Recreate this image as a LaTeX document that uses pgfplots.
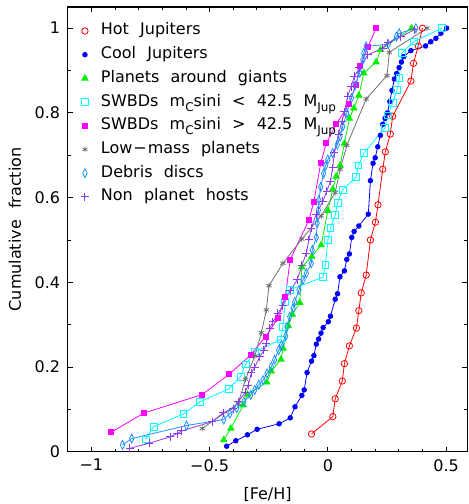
\documentclass[border=0pt]{standalone}
\usepackage{pgfplots}
\pgfplotsset{compat=1.18}
\usepackage{fontspec}
\setmainfont[WordSpace=2.2]{DejaVu Sans}
% lowered subscript in text font
\newcommand\lo[1]{\raisebox{-5bp}{\fontsize{12bp}{12bp}\selectfont #1}}

\definecolor{hotj}{HTML}{FF0000}
\definecolor{coolj}{HTML}{0000FF}
\definecolor{giants}{HTML}{00F000}
\definecolor{swlow}{HTML}{00FFFF}
\definecolor{swhigh}{HTML}{FF00FF}
\definecolor{lowmass}{HTML}{707070}
\definecolor{debris}{HTML}{1E90FF}
\definecolor{nonhost}{HTML}{8C3CE8}

\begin{document}
\begin{tikzpicture}[font=\fontsize{16bp}{19bp}\selectfont]
\begin{axis}[
    name=ax,
    scale only axis,
    width=400bp, height=445bp,
    xmin=-1.1, xmax=0.59,
    ymin=0, ymax=1.05,
    xtick={-1,-0.5,0,0.5},
    xticklabels={−1,−0.5,0,0.5},
    minor x tick num=4,
    ytick={0,0.2,0.4,0.6,0.8,1},
    yticklabels={0,0.2,0.4,0.6,0.8,1},
    minor y tick num=1,
    tick align=inside,
    major tick length=5bp, minor tick length=3bp,
    axis line style={line width=1.2bp},
    every tick/.style={black, line width=0.8bp},
    yticklabel style={xshift=-4bp},
    xticklabel style={yshift=-4bp},
    xlabel={[Fe/H]},
    ylabel={Cumulative fraction},
    xlabel style={at={(axis description cs:0.5,-0.0966)}, anchor=center},
    ylabel style={at={(axis description cs:-0.1318,0.5)}, anchor=center},
    every axis plot/.append style={line width=0.8bp},
    legend image code/.code={\draw[#1] plot coordinates {(0bp,0bp)};},
    legend cell align=left,
    legend style={draw=none, fill=none, inner sep=0pt, outer sep=0pt,
        at={(axis description cs:0,1)}, anchor=north west,
        xshift=13.3bp, yshift=-16bp,
        row sep=7.7bp, column sep=12bp,
        nodes={inner sep=0pt, text height=12bp, text depth=4bp},
        font=\fontsize{16bp}{19bp}\selectfont},
]
% Hot Jupiters
\addplot[hotj, mark=o, mark size=3.2bp] coordinates {
(-0.069,0.042) (0.021,0.083) (0.031,0.125) (0.061,0.167) (0.070,0.208)
(0.091,0.250) (0.121,0.292) (0.131,0.333) (0.141,0.375) (0.162,0.417)
(0.180,0.500) (0.201,0.542) (0.212,0.583) (0.232,0.667) (0.243,0.708)
(0.264,0.750) (0.274,0.792) (0.351,0.875) (0.362,0.917) (0.382,0.958)
(0.400,1.000)
};
\addlegendentry{Hot Jupiters}
% Cool Jupiters
\addplot[coolj, mark=*, mark size=2.3bp] coordinates {
(-0.428,0.013) (-0.389,0.026) (-0.340,0.040) (-0.299,0.053) (-0.206,0.066)
(-0.159,0.080) (-0.139,0.106) (-0.110,0.133) (-0.100,0.146) (-0.088,0.187)
(-0.069,0.214) (-0.059,0.227) (-0.049,0.254) (-0.039,0.266) (-0.029,0.280)
(-0.020,0.293) (0.002,0.307) (0.011,0.320) (0.031,0.360) (0.041,0.373)
(0.051,0.413) (0.070,0.427) (0.080,0.454) (0.091,0.467) (0.101,0.506)
(0.111,0.520) (0.131,0.533) (0.171,0.561) (0.180,0.640) (0.191,0.681)
(0.200,0.694) (0.211,0.720) (0.222,0.747) (0.232,0.773) (0.242,0.787)
(0.252,0.800) (0.262,0.827) (0.271,0.853) (0.281,0.880) (0.291,0.893)
(0.301,0.907) (0.311,0.920) (0.321,0.933) (0.351,0.947) (0.413,0.958)
(0.435,0.968) (0.457,0.976) (0.478,0.988) (0.502,1.000)
};
\addlegendentry{Cool Jupiters}
% Planets around giants
\addplot[giants, mark=triangle*, mark size=3.6bp] coordinates {
(-0.440,0.028) (-0.410,0.055) (-0.358,0.110) (-0.340,0.135) (-0.258,0.164)
(-0.239,0.190) (-0.198,0.218) (-0.189,0.244) (-0.167,0.297) (-0.150,0.324)
(-0.119,0.352) (-0.110,0.436) (-0.068,0.461) (-0.028,0.488) (0.000,0.569)
(0.021,0.620) (0.035,0.650) (0.052,0.676) (0.070,0.728) (0.091,0.787)
(0.110,0.811) (0.131,0.841) (0.152,0.894) (0.204,0.920) (0.223,0.949)
(0.354,1.000)
};
\addlegendentry{Planets around giants}
% SWBDs low mass
\addplot[swlow, mark=square, mark size=3.4bp] coordinates {
(-0.770,0.029) (-0.737,0.059) (-0.611,0.089) (-0.541,0.118) (-0.420,0.148)
(-0.369,0.177) (-0.348,0.206) (-0.309,0.236) (-0.199,0.265) (-0.190,0.295)
(-0.180,0.354) (-0.162,0.382) (-0.021,0.412) (-0.010,0.441) (0.000,0.500)
(0.011,0.529) (0.031,0.559) (0.041,0.588) (0.062,0.618) (0.119,0.648)
(0.129,0.676) (0.152,0.705) (0.242,0.765) (0.253,0.794) (0.274,0.823)
(0.292,0.854) (0.302,0.882) (0.312,0.941) (0.365,0.969) (0.482,1.000)
};
\addlegendentry{SWBDs m\lo{C}sini < 42.5 M\lo{Jup}}
% SWBDs high mass
\addplot[swhigh, mark=square*, mark size=2.5bp] coordinates {
(-0.916,0.046) (-0.779,0.091) (-0.531,0.135) (-0.417,0.183) (-0.327,0.228)
(-0.263,0.272) (-0.211,0.315) (-0.180,0.366) (-0.159,0.454) (-0.080,0.547)
(-0.059,0.591) (-0.030,0.681) (-0.007,0.728) (0.035,0.773) (0.089,0.821)
(0.120,0.866) (0.134,0.911) (0.169,0.955) (0.204,1.000)
};
\addlegendentry{SWBDs m\lo{C}sini > 42.5 M\lo{Jup}}
% Low-mass planets
\addplot[lowmass, mark=asterisk, mark size=3bp] coordinates {
(-0.531,0.055) (-0.379,0.114) (-0.348,0.171) (-0.309,0.226) (-0.281,0.281)
(-0.260,0.335) (-0.249,0.392) (-0.190,0.445) (-0.110,0.502) (-0.028,0.557)
(0.031,0.612) (0.052,0.667) (0.080,0.723) (0.162,0.833) (0.250,0.888)
(0.260,0.943) (0.419,1.000)
};
\addlegendentry{Low{\kern1pt}−{\kern1pt}mass planets}
% Debris discs
\addplot[debris, mark=diamond, mark size=4.5bp, mark options={xscale=0.65}] coordinates {
(-0.868,0.016) (-0.829,0.031) (-0.597,0.062) (-0.440,0.076) (-0.414,0.090)
(-0.385,0.103) (-0.355,0.118) (-0.326,0.134) (-0.309,0.146) (-0.292,0.158)
(-0.274,0.169) (-0.257,0.185) (-0.239,0.201) (-0.225,0.217) (-0.208,0.240)
(-0.196,0.252) (-0.178,0.273) (-0.173,0.295) (-0.161,0.319) (-0.147,0.339)
(-0.140,0.354) (-0.122,0.382) (-0.105,0.406) (-0.091,0.421) (-0.070,0.445)
(-0.066,0.476) (-0.049,0.506) (-0.045,0.540) (-0.040,0.570) (-0.038,0.594)
(-0.030,0.625) (-0.018,0.657) (-0.010,0.675) (0.000,0.690) (0.020,0.705)
(0.040,0.725) (0.052,0.744) (0.063,0.768) (0.080,0.800) (0.100,0.835)
(0.115,0.865) (0.135,0.895) (0.148,0.925) (0.152,0.941) (0.162,0.957)
(0.255,0.962) (0.290,0.980) (0.302,0.988) (0.372,1.000)
};
\addlegendentry{Debris discs}
% Non planet hosts
\addplot[nonhost, mark=+, mark size=4bp, mark options={line width=1bp}] coordinates {
(-0.838,0.008) (-0.756,0.020) (-0.667,0.035) (-0.636,0.043) (-0.618,0.049)
(-0.489,0.071) (-0.442,0.092) (-0.400,0.102) (-0.379,0.118) (-0.350,0.140)
(-0.337,0.157) (-0.323,0.187) (-0.309,0.200) (-0.288,0.224) (-0.270,0.240)
(-0.260,0.256) (-0.246,0.291) (-0.232,0.307) (-0.211,0.327) (-0.190,0.345)
(-0.160,0.380) (-0.129,0.406) (-0.110,0.440) (-0.091,0.469) (-0.080,0.500)
(-0.070,0.528) (-0.050,0.560) (-0.021,0.591) (-0.005,0.615) (0.011,0.638)
(0.020,0.670) (0.028,0.706) (0.045,0.750) (0.060,0.780) (0.070,0.803)
(0.084,0.839) (0.098,0.862) (0.112,0.886) (0.133,0.906) (0.169,0.937)
(0.232,0.953) (0.253,0.965) (0.309,0.980) (0.365,0.996)
};
\addlegendentry{Non planet hosts}
\end{axis}
\pgfresetboundingbox
\path ([shift={(-67.7bp,-52.3bp)}]ax.south west) rectangle ([shift={(1.3bp,7bp)}]ax.north east);
\end{tikzpicture}
\end{document}
